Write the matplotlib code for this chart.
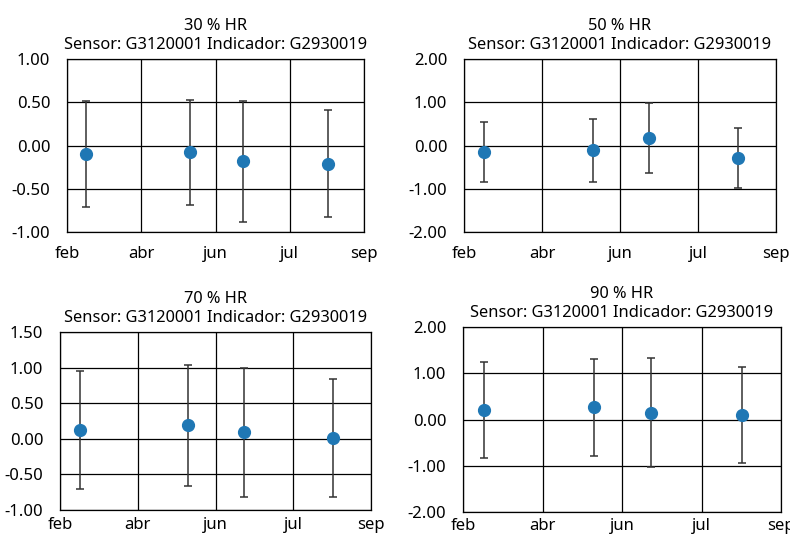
import matplotlib
matplotlib.use("Agg")
import matplotlib.pyplot as plt

plt.rcParams['font.family'] = ['Noto Sans', 'DejaVu Sans']

# posicion de cada medida en el eje (0 = feb, 4 = sep)
x_pos = [0.26, 1.65, 2.37, 3.51]
meses = ["feb", "abr", "jun", "jul", "sep"]

titulos = ["30 % HR", "50 % HR", "70 % HR", "90 % HR"]
subtitulo = "Sensor: G3120001 Indicador: G2930019"

err_30 = [-0.10, -0.08, -0.18, -0.21]
inc_30 = [0.61, 0.61, 0.70, 0.615]

err_50 = [-0.15, -0.11, 0.17, -0.29]
inc_50 = [0.69, 0.73, 0.81, 0.70]

err_70 = [0.12, 0.19, 0.09, 0.01]
inc_70 = [0.83, 0.85, 0.91, 0.83]

err_90 = [0.21, 0.26, 0.15, 0.10]
inc_90 = [1.04, 1.04, 1.17, 1.03]

ylims = [(-1, 1), (-2, 2), (-1, 1.5), (-2, 2)]
yticks = [[-1, -0.5, 0, 0.5, 1],
          [-2, -1, 0, 1, 2],
          [-1, -0.5, 0, 0.5, 1, 1.5],
          [-2, -1, 0, 1, 2]]

# cajas de los ejes en pixeles: izquierda, derecha, arriba, abajo
cajas = [(67, 364, 59, 232), (464, 776, 59, 232),
         (60, 371, 332, 510), (463, 781, 327, 512)]
pad_x = [10, 10, 5, 4]

W, H = 790, 538
fig = plt.figure(figsize=(W / 100, H / 100), dpi=100)

datos = [(err_30, inc_30), (err_50, inc_50), (err_70, inc_70), (err_90, inc_90)]

for i in range(4):
    l, r, t, b = cajas[i]
    ax = fig.add_axes([l / W, (H - b) / H, (r - l) / W, (b - t) / H])
    err, inc = datos[i]
    ax.errorbar(x_pos, err, yerr=inc, fmt='o', color='#1f77b4', markersize=8.5,
                ecolor='#333333', elinewidth=1.1, capsize=2.6, capthick=1.1, zorder=3)
    ax.set_xlim(0, 4)
    ax.set_ylim(*ylims[i])
    ax.set_xticks(range(5))
    ax.set_xticklabels(meses)
    ax.set_yticks(yticks[i])
    ax.set_yticklabels(["%.2f" % v for v in yticks[i]])
    ax.grid(True, color='black', linewidth=0.9)
    ax.tick_params(axis='y', length=0, labelsize=12, pad=12)
    ax.tick_params(axis='x', length=0, labelsize=12, pad=pad_x[i])
    for s in ax.spines.values():
        s.set_color('black')
        s.set_linewidth(0.9)
    ax.set_title(titulos[i] + "\n" + subtitulo, fontsize=11.8, pad=7, linespacing=1.25)

fig.savefig("out.png", dpi=100)
